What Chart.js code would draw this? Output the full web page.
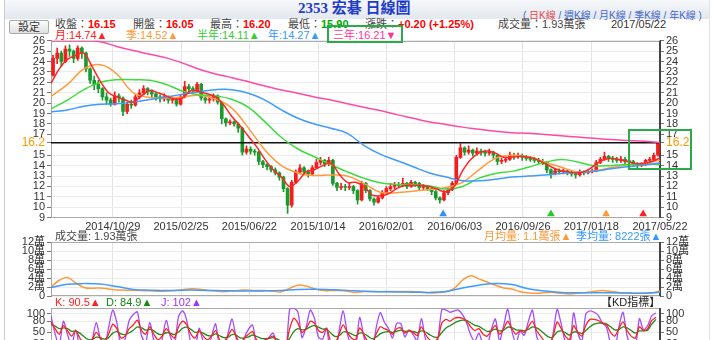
<!DOCTYPE html>
<html>
<head>
<meta charset="utf-8">
<title>2353 宏碁 日線圖</title>
<script src="https://cdn.jsdelivr.net/npm/chart.js@4.4.1/dist/chart.umd.min.js"></script>
<style>
body{margin:0;width:720px;height:340px;overflow:hidden;background:#fff;position:relative;font-family:"Liberation Sans","Noto Sans CJK TC",sans-serif;font-size:11px;color:#444}
.abs{position:absolute;white-space:nowrap;line-height:12px}
.r{color:#f00;font-weight:bold}
.g{color:#0a0;font-weight:bold}
#head{position:absolute;left:4px;top:0;width:706px;height:19px;background:linear-gradient(#f6f8fb,#e2e8ef)}
#edgeL{position:absolute;left:4px;top:0;width:1px;height:340px;background:#ccc}
#edgeR{position:absolute;left:709px;top:0;width:1px;height:340px;background:#e2e2e2}
#title{left:298px;top:1px;font:bold 15px "Liberation Serif","Noto Sans CJK TC",serif;color:#1e3cc8;line-height:15px}
#links{left:523px;top:10px;font-size:10px;color:#4466cc}
#btn{left:9px;top:20px;width:38px;height:12px;border:1px solid #aaa;border-radius:2px;background:linear-gradient(#fdfdfd,#e0e0e0);text-align:center;color:#333}
canvas{position:absolute;left:0}
.box{position:absolute;border:2px solid #2aaa48}
</style>
</head>
<body>
<div id="head"></div>
<div id="edgeL"></div><div id="edgeR"></div>
<div class="abs" id="title">2353 宏碁 日線圖</div>
<div class="abs" id="links">( <span style="color:#e84a4a">日K線</span> / 週K線 / 月K線 / 季K線 / 年K線 )</div>
<div class="abs" id="btn">設定</div>

<div class="abs" style="left:55px;top:18px">收盤：<span class="r">16.15</span></div>
<div class="abs" style="left:133px;top:18px">開盤：<span class="r">16.05</span></div>
<div class="abs" style="left:210px;top:18px">最高：<span class="r">16.20</span></div>
<div class="abs" style="left:288px;top:18px">最低：<span class="g">15.90</span></div>
<div class="abs" style="left:365px;top:18px">漲跌：<span class="r">+0.20 (+1.25%)</span></div>
<div class="abs" style="left:498px;top:18px">成交量：1.93萬張</div>
<div class="abs" style="left:611px;top:18px;color:#333">2017/05/22</div>

<div class="abs" style="left:55px;top:29px;color:#ff2020">月:14.74▲</div>
<div class="abs" style="left:126px;top:29px;color:#ff9933">季:14.52▲</div>
<div class="abs" style="left:197px;top:29px;color:#33cc33">半年:14.11▲</div>
<div class="abs" style="left:268px;top:29px;color:#3399ff">年:14.27▲</div>
<div class="abs" style="left:333px;top:29px;color:#ff3399">三年:16.21▼</div>

<canvas id="price" width="720" height="205" style="top:30px"></canvas>
<canvas id="vol" width="720" height="74" style="top:232px"></canvas>
<canvas id="kd" width="720" height="62" style="top:298px"></canvas>

<div class="abs" style="left:55px;top:230px;color:#444">成交量: 1.93萬張</div>
<div class="abs" style="left:484px;top:230px;color:#ff9933">月均量: 1.1萬張▲</div>
<div class="abs" style="left:576px;top:230px;color:#3399ff">季均量: 8222張▲</div>

<div class="abs" style="left:55px;top:296px;color:#ff2020">K: 90.5▲</div>
<div class="abs" style="left:106px;top:296px;color:#118811">D: 84.9▲</div>
<div class="abs" style="left:161px;top:296px;color:#9933ff">J: 102▲</div>
<div class="abs" style="left:601px;top:296px;color:#222">【KD指標】</div>

<div class="box" style="left:327px;top:25px;width:72px;height:14px"></div>
<div class="box" style="left:628px;top:129px;width:60px;height:37px"></div>

<script>
// x axis: weeks from mid-July 2014 to 2017/05/22
var weekTicks=[15,31.6,48.2,64.9,81.5,98.1,114.7,131.3,148];
var weekLabels=['2014/10/29','2015/02/25','2015/06/22','2015/10/14','2016/02/01','2016/06/03','2016/09/26','2017/01/18','2017/05/22'];

// weekly candles
var opens=[22.7,24.3,24.8,24.0,25.2,25.0,24.3,25.3,24.8,23.3,
22.2,21.8,21.4,20.6,20.3,19.9,20.7,20.5,19.2,19.9,
19.8,20.6,21.0,21.4,21.1,20.9,20.6,20.4,20.6,20.3,
20.4,19.9,20.6,21.6,21.4,21.2,21.8,20.5,20.3,20.4,
20.7,20.1,18.5,18.1,18.2,18.0,17.6,15.3,15.6,15.4,
15.3,14.4,14.1,13.9,13.6,13.3,12.9,11.8,10.2,12.4,
13.4,13.8,13.4,13.2,13.8,14.3,14.5,14.2,14.5,12.3,
11.9,12.0,11.9,12.0,11.6,10.7,12.3,11.6,10.8,10.5,
10.9,11.4,11.8,12.0,12.2,12.1,12.3,12.0,12.4,12.3,
11.9,12.0,11.8,11.5,10.9,10.7,11.4,11.7,12.3,14.8,
15.7,15.3,15.5,15.2,15.4,15.3,15.2,15.3,15.0,14.4,
14.5,14.6,15.0,14.9,15.0,14.8,14.7,14.6,14.5,14.4,
14.3,13.6,13.2,13.5,13.4,13.5,13.3,13.2,13.1,13.4,
13.3,13.4,13.5,14.3,14.6,14.9,14.7,14.6,14.5,14.6,
14.4,14.4,14.2,14.0,14.1,14.5,14.6,15.0];
var closes=[24.3,24.8,24.0,25.2,25.0,24.3,25.3,24.8,23.3,22.2,
21.8,21.4,20.6,20.3,19.9,20.7,20.5,19.2,19.9,19.8,
20.6,21.0,21.4,21.1,20.9,20.6,20.4,20.6,20.3,20.4,
19.9,20.6,21.6,21.4,21.2,21.8,20.5,20.3,20.4,20.7,
20.1,18.5,18.1,18.2,18.0,17.6,15.3,15.6,15.4,15.3,
14.4,14.1,13.9,13.6,13.3,12.9,11.8,10.2,12.4,13.4,
13.8,13.4,13.2,13.8,14.3,14.5,14.2,14.5,12.3,11.9,
12.0,11.9,12.0,11.6,10.7,12.3,11.6,10.8,10.5,10.9,
11.4,11.8,12.0,12.2,12.1,12.3,12.0,12.4,12.3,11.9,
12.0,11.8,11.5,10.9,10.7,11.4,11.7,12.3,14.8,15.7,
15.3,15.5,15.2,15.4,15.3,15.2,15.3,15.0,14.4,14.5,
14.6,15.0,14.9,15.0,14.8,14.7,14.6,14.5,14.4,14.3,
13.6,13.2,13.5,13.4,13.5,13.3,13.2,13.1,13.4,13.3,
13.4,13.5,14.3,14.6,14.9,14.7,14.6,14.5,14.6,14.4,
14.4,14.2,14.0,14.1,14.5,14.6,15.0,16.15];
var highs=[24.6,25.3,25.0,25.5,25.6,25.1,25.5,25.4,24.9,23.4,
22.6,22.2,21.5,21.0,20.5,21.1,20.9,20.6,20.1,20.3,
20.8,21.3,21.7,21.5,21.3,21.0,20.8,20.9,20.7,20.6,
20.5,20.8,22.1,21.8,21.6,22.0,21.9,20.7,20.6,20.9,
20.8,20.2,18.6,18.4,18.3,18.1,17.7,15.9,15.8,15.6,
15.4,14.5,14.2,14.0,13.8,13.4,13.0,11.9,12.6,13.6,
14.1,13.9,13.6,14.0,14.6,14.8,14.6,14.8,14.6,12.4,
12.3,12.2,12.3,12.1,11.7,12.5,12.4,11.7,10.9,11.1,
11.6,12.0,12.3,12.4,12.4,12.8,12.4,12.6,12.5,12.4,
12.2,12.1,11.9,11.6,11.0,11.6,11.9,12.5,15.0,16.1,
15.8,15.9,15.6,15.7,15.6,15.5,15.6,15.4,15.1,14.7,
14.8,15.3,15.2,15.2,15.1,15.0,14.9,14.8,14.7,14.6,
14.4,13.7,13.7,13.7,13.7,13.6,13.5,13.3,13.6,13.5,
13.6,13.7,14.5,14.8,15.3,15.0,14.9,14.8,14.9,14.8,
14.7,14.5,14.3,14.3,14.6,14.8,15.2,16.2];
var lows=[22.6,23.8,23.5,23.9,24.5,23.9,24.1,24.3,23.0,21.9,
21.3,21.0,20.3,19.9,19.7,19.8,20.1,18.8,19.0,19.5,
19.7,20.4,20.8,20.8,20.6,20.3,20.1,20.2,20.0,20.0,
19.7,19.8,20.5,21.1,20.9,21.1,20.3,20.0,20.0,20.2,
19.9,18.0,17.8,17.9,17.8,17.2,15.0,15.1,15.1,15.0,
14.1,13.8,13.6,13.4,13.1,12.6,11.5,9.4,10.0,12.3,
13.2,13.1,12.9,13.1,13.7,14.1,13.9,14.0,12.1,11.6,
11.7,11.6,11.7,11.3,10.3,10.6,11.4,10.6,10.2,10.4,
10.8,11.3,11.6,11.8,11.9,12.0,11.8,11.9,12.0,11.7,
11.7,11.6,11.2,10.7,10.4,10.6,11.2,11.6,12.2,14.7,
15.0,15.1,14.9,15.0,15.0,14.9,15.0,14.7,14.1,14.2,
14.3,14.5,14.6,14.7,14.5,14.5,14.4,14.3,14.2,14.1,
13.3,12.8,13.1,13.2,13.2,13.1,13.0,12.8,13.0,13.1,
13.2,13.3,13.4,14.2,14.5,14.4,14.3,14.3,14.3,14.2,
14.2,14.0,13.8,13.9,14.0,14.4,14.5,14.9];

// moving averages (monthly every 2 weeks, the rest every 4 weeks)
var maMonth=[21.9,23.3,24.2,24.6,24.8,23.5,22.1,21.0,20.6,20.3,
20.1,20.7,21.2,21.0,20.7,20.4,20.5,21.2,21.1,20.9,
20.6,19.8,18.7,17.8,16.8,15.8,14.6,13.6,12.9,12.0,
12.5,13.4,13.6,14.0,14.25,13.2,12.4,12.4,12.0,11.2,
11.1,11.3,11.8,12.1,12.1,12.1,12.0,11.7,11.5,12.0,
13.5,14.6,15.2,15.4,15.2,14.8,14.8,14.9,14.8,14.6,
14.2,13.8,13.5,13.4,13.3,13.5,14.0,14.5,14.7,14.6,
14.4,14.2,14.2,14.4,14.74];
var maQuarter=[20.65,21.8,23.3,23.7,22.8,21.0,20.55,20.5,20.6,20.75,
20.4,19.5,17.6,15.5,14.0,13.3,13.05,13.1,13.0,12.3,
11.45,11.4,11.55,11.7,11.9,12.4,13.6,14.7,15.0,14.85,
14.35,13.85,13.4,13.5,13.8,14.05,14.2,14.52];
var maHalf=[19.45,20.3,21.3,22.0,22.25,22.25,22.2,21.8,21.15,20.8,
20.7,20.35,19.6,18.2,16.7,15.6,14.85,14.1,13.4,12.8,
12.35,12.2,12.2,12.05,11.75,12.0,12.8,13.25,13.45,13.85,
14.3,14.6,14.35,14.0,14.0,14.1,14.15,14.11];
var maYear=[19.15,19.35,19.7,19.9,19.95,20.1,20.35,20.6,20.85,21.1,
21.3,21.3,20.95,20.3,19.35,18.55,18.0,17.6,17.1,15.95,
15.1,14.5,13.9,13.3,12.9,12.55,12.55,12.7,12.9,13.0,
13.1,13.25,13.35,13.45,13.7,13.9,14.05,14.27];
var ma3Year=[26.0,26.0,26.0,25.9,25.45,25.05,24.7,24.35,23.85,23.25,
22.8,22.45,22.05,21.65,21.27,20.95,20.6,20.3,19.95,19.6,
19.3,18.9,18.55,18.2,17.95,17.7,17.5,17.3,17.17,17.1,
17.0,16.87,16.75,16.62,16.5,16.42,16.35,16.21];

var refPrice=16.2;
var priceTicks=[9,10,11,12,13,14,15,16.2,17,18,19,20,21,22,23,24,25,26];
var signalWeeks=[95.3,121.5,134.9,143.9];
var signalLevel=9.35;

// volume averages (萬張)
var volMonth=[1.9,3.5,4.1,2.9,1.9,1.7,1.8,1.55,1.35,1.3,
1.25,1.2,1.15,1.05,1.1,1.2,1.4,1.6,1.5,1.3,
1.1,0.95,1.1,1.3,1.3,1.2,1.2,1.05,0.95,1.7,
2.4,2.2,1.6,1.2,1.2,1.2,1.05,0.8,1.0,1.0,
0.95,1.0,1.0,1.0,1.0,0.9,0.7,0.75,0.95,1.7,
3.5,4.5,3.8,3.1,2.4,1.8,1.55,0.95,0.7,0.6,
0.75,0.8,0.6,0.45,0.6,0.8,1.0,1.2,1.0,0.8,
0.7,0.6,0.6,0.7,1.1];
var volQuarter=[1.9,2.6,2.75,2.65,2.1,1.45,1.3,1.2,1.3,1.3,
1.2,1.15,1.1,1.15,1.25,1.45,1.5,1.4,1.25,1.05,
0.95,0.9,0.85,0.8,1.0,1.8,2.4,2.8,2.55,1.6,
1.1,0.8,0.72,0.7,0.7,0.66,0.62,0.82];
var volTicks=[0,2,4,6,8,10,12];

// KD (weekly)
var kdK=[78,60,45,68,55,40,55,35,20,15,
30,50,35,25,45,72,60,35,40,60,
70,83,55,45,65,45,30,40,60,45,
35,65,80,70,45,35,55,40,30,40,
55,30,25,40,58,40,20,35,45,52,
30,25,30,35,40,25,15,10,60,88,
75,50,60,80,75,55,50,60,25,20,
45,70,50,35,30,62,45,25,20,45,
65,60,55,45,60,62,48,55,50,42,
65,45,30,25,35,75,85,80,88,90,
88,80,65,55,60,45,40,55,68,45,
60,80,60,45,55,50,65,80,55,40,
25,20,40,78,60,40,30,68,50,40,
70,85,85,82,75,70,50,40,60,78,
55,40,35,65,55,60,82,90.5];
var kdD=[70,67,60,62,60,53,54,48,39,31,
31,37,36,32,36,48,52,46,44,49,
56,65,62,56,59,54,46,44,49,48,
44,51,61,64,58,50,52,48,42,41,
46,41,36,37,44,43,35,35,38,43,
39,34,33,34,36,32,26,21,34,52,
60,57,58,65,68,64,59,59,48,39,
41,51,51,46,41,48,47,40,33,37,
46,51,52,50,53,56,53,54,53,49,
54,51,44,38,37,50,62,68,75,80,
83,82,76,69,66,59,53,54,59,54,
56,64,63,57,56,54,58,65,62,55,
45,37,38,51,54,49,43,51,51,47,
55,65,72,75,75,73,65,57,58,65,
62,55,48,54,54,56,72,84.9];
var kdJ=[94,46,15,80,45,14,57,9,-18,-17,
28,76,33,11,63,110,76,13,32,82,
98,105,41,23,77,27,-2,32,82,39,
17,93,108,82,19,5,61,24,6,38,
73,8,3,46,86,34,-10,35,59,70,
12,7,24,37,48,11,-7,-12,112,115,
105,36,64,110,89,37,32,62,-21,-18,
53,108,48,13,8,90,41,-5,-6,61,
103,78,61,35,74,74,38,57,44,28,
87,33,2,-1,31,112,110,104,108,110,
98,76,43,27,48,17,14,57,86,27,
68,112,54,21,53,42,79,110,41,10,
-15,-14,44,112,72,22,4,102,48,26,
100,108,104,96,75,64,20,6,64,104,
41,10,9,87,57,68,95,102];
var kdTicks=[0,20,50,80,100];

Chart.defaults.font.family='"Liberation Sans","Noto Sans CJK TC",sans-serif';
Chart.defaults.font.size=11;
Chart.defaults.color='#333';
Chart.defaults.animation=false;
Chart.defaults.plugins.legend.display=false;
Chart.defaults.plugins.tooltip.enabled=false;

function pts(arr,step){return arr.map(function(v,i){return {x:i*step,y:v};});}
function setTicks(list){return function(s){s.ticks=list.map(function(v){return {value:v};});};}
function setW(w){return function(s){s.width=w;};}
function setH(h){return function(s){s.height=h;};}

var frame={id:'frame',beforeDatasetsDraw:function(c){
  var a=c.chartArea,x=c.ctx;
  x.save();x.lineWidth=1;x.strokeStyle='#aaa';
  x.strokeRect(Math.round(a.left)+0.5,Math.round(a.top)+0.5,Math.round(a.right-a.left)-1,Math.round(a.bottom-a.top)-1);
  x.strokeStyle='#444';x.beginPath();
  x.moveTo(Math.round(a.right)-0.5,a.top);x.lineTo(Math.round(a.right)-0.5,a.bottom);x.stroke();
  x.restore();
}};

function xAxis(showLabels,h){
  return {type:'linear',min:0,max:148,offset:false,
    afterBuildTicks:setTicks(weekTicks),afterFit:setH(h),
    grid:{color:'#e4e4e4',drawTicks:false,offset:false},
    border:{display:false},
    ticks:{display:showLabels,autoSkip:false,maxRotation:0,minRotation:0,padding:3,color:'#333',
      callback:function(v,i){return weekLabels[i];}}};
}
function yAxis(pos,min,max,list,fmt,w,extra){
  var s={type:'linear',position:pos,min:min,max:max,
    afterBuildTicks:setTicks(list),afterFit:setW(w),
    grid:{drawOnChartArea:pos==='left',color:'#ececec',tickColor:'#777',tickLength:4},
    border:{color:pos==='left'?'#999':'#444'},
    ticks:{autoSkip:false,padding:2,color:'#333',callback:fmt}};
  if(extra) extra(s);
  return s;
}
function priceStyle(s){
  s.ticks.color=function(c){return c.tick&&c.tick.value===refPrice?'#ff9900':'#333';};
  s.ticks.font=function(c){return c.tick&&c.tick.value===refPrice?{size:12}:{size:11};};
  s.grid.color=function(c){return c.tick&&c.tick.value===refPrice?'rgba(0,0,0,0)':'#ececec';};
}
function fmtPrice(v){return String(v);}
function fmtVol(v){return v===0?'0':v+'萬';}
function fmtKd(v){return String(v);}

var candleColor=closes.map(function(c,i){return c>=opens[i]?'#f41c1c':'#1a9a2c';});
var wickData=highs.map(function(h,i){return {x:i+0.5,y:[lows[i],h]};});
var bodyData=closes.map(function(c,i){return {x:i+0.5,y:[opens[i],c]};});

new Chart(document.getElementById('price'),{
  type:'bar',
  data:{datasets:[
    {type:'bar',data:wickData,backgroundColor:candleColor,barThickness:1,grouped:false,order:6},
    {type:'bar',data:bodyData,backgroundColor:candleColor,barThickness:3,minBarLength:1,grouped:false,order:5},
    {type:'line',data:[{x:0,y:refPrice},{x:148,y:refPrice}],borderColor:'#111',borderWidth:1.3,pointRadius:0,order:4},
    {type:'line',data:pts(ma3Year,4),borderColor:'#ff4aa5',borderWidth:1.5,pointRadius:0,tension:0.4,order:3},
    {type:'line',data:pts(maYear,4),borderColor:'#3f9bff',borderWidth:1.5,pointRadius:0,tension:0.4,order:3},
    {type:'line',data:pts(maHalf,4),borderColor:'#3ddc3d',borderWidth:1.5,pointRadius:0,tension:0.4,order:3},
    {type:'line',data:pts(maQuarter,4),borderColor:'#ff9a3c',borderWidth:1.5,pointRadius:0,tension:0.4,order:3},
    {type:'line',data:pts(maMonth,2),borderColor:'#ff2525',borderWidth:1.5,pointRadius:0,tension:0.35,order:2},
    {type:'scatter',data:signalWeeks.map(function(w){return {x:w,y:signalLevel};}),pointStyle:'triangle',pointRadius:4.5,
      backgroundColor:['#2f8fff','#22cc22','#ff9933','#ff2222'],borderWidth:0,order:1}
  ]},
  options:{responsive:false,layout:{padding:{top:10.7,bottom:0,left:0,right:0}},
    scales:{x:xAxis(true,17.3),
      y:yAxis('left',9,26,priceTicks,fmtPrice,51,priceStyle),
      y2:yAxis('right',9,26,priceTicks,fmtPrice,60,priceStyle)}},
  plugins:[frame]
});

new Chart(document.getElementById('vol'),{
  type:'line',
  data:{datasets:[
    {data:pts(volQuarter,4),borderColor:'#3f9bff',borderWidth:1.5,pointRadius:0,tension:0.4},
    {data:pts(volMonth,2),borderColor:'#ff9a3c',borderWidth:1.5,pointRadius:0,tension:0.4}
  ]},
  options:{responsive:false,layout:{padding:{top:10,bottom:10,left:0,right:0}},
    scales:{x:xAxis(false,0),
      y:yAxis('left',0,12,volTicks,fmtVol,51),
      y2:yAxis('right',0,12,volTicks,fmtVol,60)}},
  plugins:[frame]
});

new Chart(document.getElementById('kd'),{
  type:'line',
  data:{datasets:[
    {data:pts(kdJ,1),borderColor:'#a44cff',borderWidth:1.3,pointRadius:0,tension:0.25,order:3},
    {data:pts(kdD,1),borderColor:'#1c8c1c',borderWidth:1.3,pointRadius:0,tension:0.25,order:2},
    {data:pts(kdK,1),borderColor:'#ff2020',borderWidth:1.3,pointRadius:0,tension:0.25,order:1}
  ]},
  options:{responsive:false,layout:{padding:{top:10.2,bottom:9,left:0,right:0}},
    scales:{x:xAxis(false,0),
      y:yAxis('left',0,115,kdTicks,fmtKd,51),
      y2:yAxis('right',0,115,kdTicks,fmtKd,60)}},
  plugins:[frame]
});
</script>
</body>
</html>
